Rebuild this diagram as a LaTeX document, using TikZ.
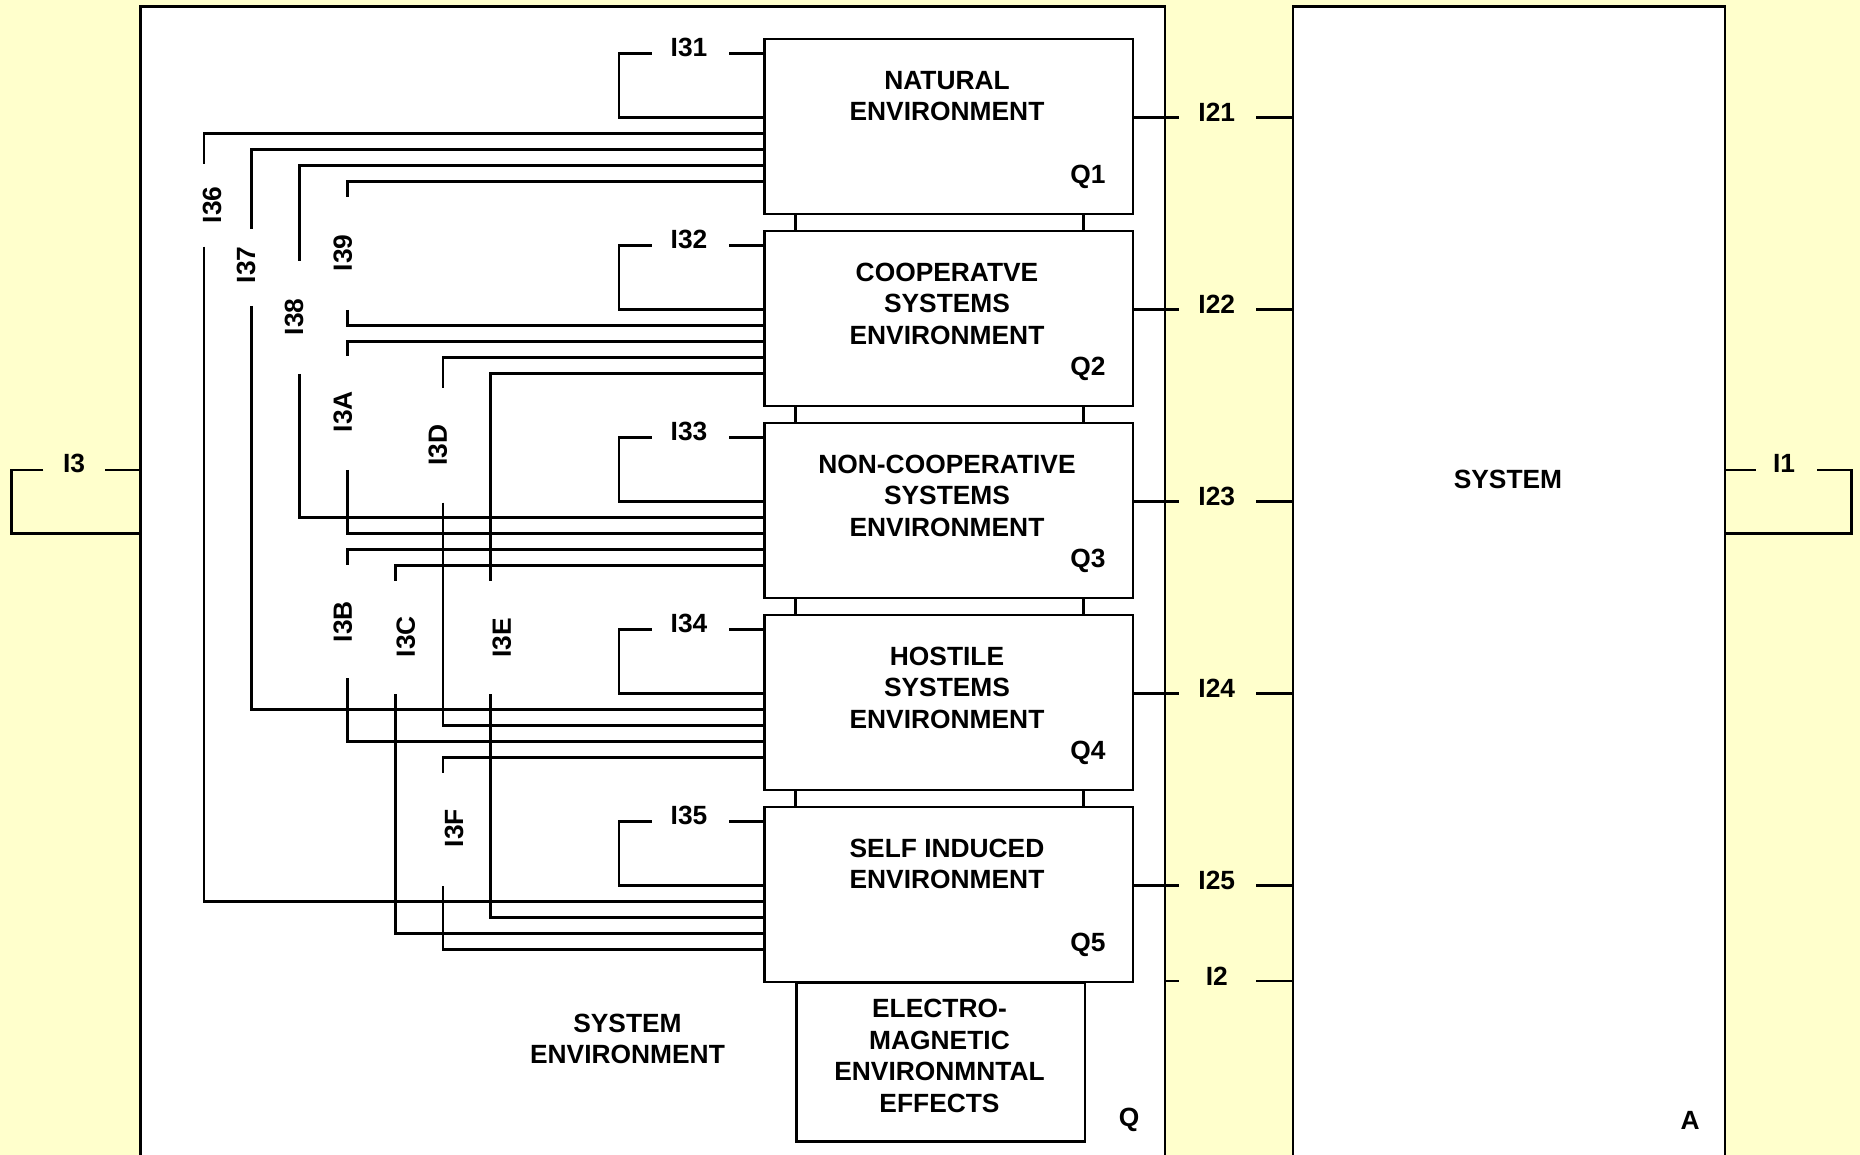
\documentclass[tikz,border=0pt]{standalone}
\usepackage{fontspec}
\setmainfont{Liberation Sans}
\usetikzlibrary{calc}
\definecolor{bgyellow}{RGB}{255,255,204}
\begin{document}
\begin{tikzpicture}[x=0.02cm,y=-0.02cm,
  ln/.style={line width=1.5pt},
  txt/.style={font=\fontsize{15}{18}\selectfont\bfseries, inner sep=0pt, align=center},
  envbox/.style={draw, line width=1.5pt, fill=white, minimum width=7.372cm, minimum height=3.5cm, inner sep=0pt, anchor=north west},
  bigbox/.style={draw, line width=1.5pt, fill=white, inner sep=0pt, anchor=north west}
]
\useasboundingbox (0,0) rectangle (1860,1155);
\clip (0,0) rectangle (1860,1155);
\fill[bgyellow] (0,0) rectangle (1860,1155);

% outer boxes
\node[bigbox, minimum width=20.5cm, minimum height=23.4cm] (Q) at (139,5) {};
\node[bigbox, minimum width=8.636cm, minimum height=23.4cm] (A) at (1291.8,5) {};

% EM box
\node[bigbox, minimum width=5.764cm, minimum height=3.18cm] (EM) at (795.4,981) {};

% environment boxes
\node[envbox] (Q1) at (763.2,37.7) {};
\node[envbox] (Q2) at (763.2,229.7) {};
\node[envbox] (Q3) at (763.2,421.7) {};
\node[envbox] (Q4) at (763.2,613.7) {};
\node[envbox] (Q5) at (763.2,805.7) {};

\foreach \k in {1,...,5}{
  \foreach \o in {16,80,96,112,128,144}{
    \coordinate (Q\k-\o) at ($(Q\k.north west)+(0,\o)$);
  }
  \coordinate (Q\k-r) at ($(Q\k.north east)+(0,79.6)$);
}

% stubs between boxes
\coordinate (stL) at (795.4,0);
\coordinate (stR) at (1083.6,0);
\foreach \a/\b in {Q1/Q2,Q2/Q3,Q3/Q4,Q4/Q5}{
  \draw[ln] (\a.south -| stL) -- (\b.north -| stL);
  \draw[ln] (\a.south -| stR) -- (\b.north -| stR);
}

% box texts
\node[txt] (t1) at (947,96) {NATURAL\\ENVIRONMENT};
\node[txt] (t2) at (947,303.8) {COOPERATVE\\SYSTEMS\\ENVIRONMENT};
\node[txt] (t3) at (947,495.8) {NON-COOPERATIVE\\SYSTEMS\\ENVIRONMENT};
\node[txt] (t4) at (947,687.8) {HOSTILE\\SYSTEMS\\ENVIRONMENT};
\node[txt] (t5) at (947,864) {SELF INDUCED\\ENVIRONMENT};
\node[txt] (tEM) at (939.5,1056) {ELECTRO-\\MAGNETIC\\ENVIRONMNTAL\\EFFECTS};
\node[txt] (q1l) at (1088,176.4) {Q1};
\node[txt] (q2l) at (1088,368.4) {Q2};
\node[txt] (q3l) at (1088,560.4) {Q3};
\node[txt] (q4l) at (1088,752.4) {Q4};
\node[txt] (q5l) at (1088,944.4) {Q5};
\node[txt] (sysenv) at (627.5,1039) {SYSTEM\\ENVIRONMENT};
\node[txt] (ql) at (1129,1120) {Q};
\node[txt] (al) at (1690,1120) {A};
\node[txt] (sys) at (1508,479) {SYSTEM};

% self loops I31..I35
\coordinate (lpX) at (619,0);
\coordinate (lpL) at (651.6,0);
\coordinate (lpM) at (689,0);
\coordinate (lpR) at (729,0);
\foreach \k in {1,...,5}{
  \draw[ln] (Q\k-16) -- (Q\k-16 -| lpR);
  \draw[ln] (Q\k-16 -| lpL) -- (Q\k-16 -| lpX) |- (Q\k-80);
  \node[txt] (l3\k) at ($(Q\k-16 -| lpM)+(0,-6)$) {I3\k};
}

% interfaces to system I21..I25
\coordinate (rgL) at (1179.3,0);
\coordinate (rgM) at (1216.8,0);
\coordinate (rgR) at (1256,0);
\foreach \k in {1,...,5}{
  \draw[ln] (Q\k-r) -- (Q\k-r -| rgL);
  \draw[ln] (Q\k-r -| rgR) -- (Q\k-r -| A.west);
  \node[txt] (l2\k) at ($(Q\k-r -| rgM)+(0,-5)$) {I2\k};
}
% I2
\coordinate (i2y) at (0,981);
\draw[ln] (i2y -| Q.east) -- (i2y -| rgL);
\draw[ln] (i2y -| rgR) -- (i2y -| A.west);
\node[txt] (l2) at ($(i2y -| rgM)+(0,-5)$) {I2};

% I3 loop
\coordinate (i3t) at (0,470);
\coordinate (i3b) at (0,533.3);
\coordinate (i3x) at (11.7,0);
\coordinate (i3l) at (43.3,0);
\coordinate (i3r) at (105,0);
\draw[ln] (i3t -| Q.west) -- (i3t -| i3r);
\draw[ln] (i3t -| i3l) -- (i3t -| i3x) |- (i3b -| Q.west);
\node[txt] (l3) at (74,463.3) {I3};

% I1 loop
\coordinate (i1x) at (1851.7,0);
\coordinate (i1l) at (1756,0);
\coordinate (i1r) at (1817.3,0);
\draw[ln] (i3t -| A.east) -- (i3t -| i1l);
\draw[ln] (i3t -| i1r) -- (i3t -| i1x) |- (i3b -| A.east);
\node[txt] (l1) at (1784,463.3) {I1};

% cross connections with label gaps
\coordinate (c36a) at (204,164);    \coordinate (c36b) at (204,246.7);
\coordinate (c37a) at (251.8,229);  \coordinate (c37b) at (251.8,306);
\coordinate (c38a) at (299.6,261);  \coordinate (c38b) at (299.6,374);
\coordinate (c39a) at (347.4,196.7);\coordinate (c39b) at (347.4,310);
\coordinate (c3Aa) at (347.4,356);  \coordinate (c3Ab) at (347.4,470);
\coordinate (c3Da) at (443,388);    \coordinate (c3Db) at (443,502.7);
\coordinate (c3Ea) at (490.8,581);  \coordinate (c3Eb) at (490.8,694);
\coordinate (c3Ba) at (347.4,565);  \coordinate (c3Bb) at (347.4,678.3);
\coordinate (c3Ca) at (395.2,581);  \coordinate (c3Cb) at (395.2,694.3);
\coordinate (c3Fa) at (443,772.7);  \coordinate (c3Fb) at (443,886);

\draw[ln] (Q1-96) -| (c36a);  \draw[ln] (c36b) |- (Q5-96);
\draw[ln] (Q1-112) -| (c37a); \draw[ln] (c37b) |- (Q4-96);
\draw[ln] (Q1-128) -| (c38a); \draw[ln] (c38b) |- (Q3-96);
\draw[ln] (Q1-144) -| (c39a); \draw[ln] (c39b) |- (Q2-96);
\draw[ln] (Q2-112) -| (c3Aa); \draw[ln] (c3Ab) |- (Q3-112);
\draw[ln] (Q2-128) -| (c3Da); \draw[ln] (c3Db) |- (Q4-112);
\draw[ln] (Q2-144) -| (c3Ea); \draw[ln] (c3Eb) |- (Q5-112);
\draw[ln] (Q3-128) -| (c3Ba); \draw[ln] (c3Bb) |- (Q4-128);
\draw[ln] (Q3-144) -| (c3Ca); \draw[ln] (c3Cb) |- (Q5-128);
\draw[ln] (Q4-144) -| (c3Fa); \draw[ln] (c3Fb) |- (Q5-144);

\node[txt, rotate=90] (l36) at (212,205) {I36};
\node[txt, rotate=90] (l37) at (246,265) {I37};
\node[txt, rotate=90] (l38) at (294,317) {I38};
\node[txt, rotate=90] (l39) at (342.8,253) {I39};
\node[txt, rotate=90] (l3A) at (342.8,411.7) {I3A};
\node[txt, rotate=90] (l3D) at (437.7,445) {I3D};
\node[txt, rotate=90] (l3E) at (501.8,638) {I3E};
\node[txt, rotate=90] (l3B) at (342.8,621.7) {I3B};
\node[txt, rotate=90] (l3C) at (405.7,636.7) {I3C};
\node[txt, rotate=90] (l3F) at (454,828) {I3F};
\end{tikzpicture}
\end{document}
